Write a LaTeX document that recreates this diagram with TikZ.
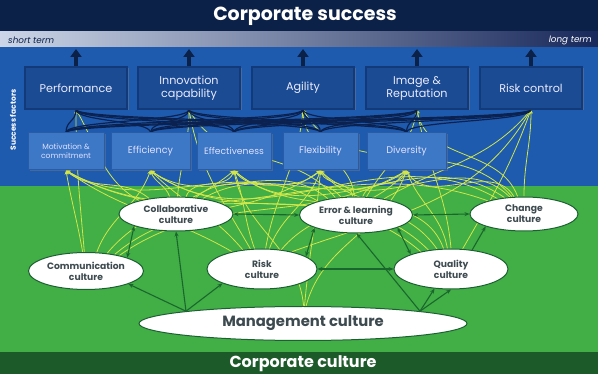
\documentclass[tikz,border=0pt]{standalone}
\usepackage{fontspec}
\setmainfont{Poppins}
\usetikzlibrary{shapes.geometric,arrows.meta,calc,shadows}
\definecolor{navy}{HTML}{0C2147}
\definecolor{gradL}{HTML}{CCD6E8}
\definecolor{gradR}{HTML}{18285A}
\definecolor{blueA}{HTML}{1E5AAE}
\definecolor{tboxf}{HTML}{1B4B92}
\definecolor{tboxb}{HTML}{123A7A}
\definecolor{sboxf}{HTML}{3C78C6}
\definecolor{sboxb}{HTML}{2A5CA6}
\definecolor{greenA}{HTML}{41AE46}
\definecolor{greenD}{HTML}{1C5A2A}
\definecolor{edark}{HTML}{1C6032}
\definecolor{ctext}{HTML}{3D4A4F}
\definecolor{garr}{HTML}{1A672D}
\definecolor{ylw}{HTML}{D0E649}
\definecolor{navc}{HTML}{0B2250}
\pgfdeclarelayer{bg}
\pgfdeclarelayer{mid}
\pgfsetlayers{bg,mid,main}
\begin{document}
\begin{tikzpicture}[x=1pt,y=1pt,
  tbox/.style={draw=tboxb, fill=tboxf, line width=1.2pt, minimum width=102pt, minimum height=42pt,
    text=white!92!blue, font=\fontsize{11.2}{13}\selectfont, align=center, inner sep=0pt,
    drop shadow={opacity=0.45, shadow xshift=1.5pt, shadow yshift=-1.5pt}},
  sbox/.style={draw=sboxb, fill=sboxf, line width=1pt, minimum height=37pt,
    text=white!88!blue, font=\fontsize{9.6}{11}\selectfont, align=center, inner sep=0pt,
    drop shadow={opacity=0.4, shadow xshift=1.5pt, shadow yshift=-1.5pt}},
  cult/.style={ellipse, draw=edark, fill=white, line width=1pt, inner sep=0pt, text=ctext,
    font=\bfseries\fontsize{9.2}{11}\selectfont, align=center},
  uparr/.style={navy, line width=3.4pt, -{Triangle[length=8pt,width=11pt]}},
  garrow/.style={garr, line width=1.1pt, -{Stealth[length=5pt,width=4pt]}},
  gboth/.style={garr, line width=1.1pt, {Stealth[length=5pt,width=4pt]}-{Stealth[length=5pt,width=4pt]}},
  ylc/.style={ylw, line width=0.8pt, -{Stealth[length=4pt,width=4pt]}},
  navcurve/.style={navc, line width=1.2pt},
  banner/.style={text=white, font=\bfseries\fontsize{19}{22}\selectfont, inner sep=0pt}
]
\useasboundingbox (0,0) rectangle (598,-374);
\begin{pgfonlayer}{bg}
  \fill[navy] (0,0) rectangle (598,-32);
  \shade[left color=gradL, right color=gradR] (0,-32) rectangle (598,-47);
  \fill[blueA] (0,-47) rectangle (598,-186);
  \fill[greenA] (0,-186) rectangle (598,-352);
  \fill[greenD] (0,-352) rectangle (598,-374);
\end{pgfonlayer}

\node[banner] (ttl) at (305,-16) {Corporate success};
\node[banner, font=\bfseries\fontsize{16}{18}\selectfont] (cc) at (303,-364) {Corporate culture};
\node[anchor=west, inner sep=0pt, text=navy, font=\itshape\fontsize{8.8}{10}\selectfont] (st) at (8,-40) {short term};
\node[anchor=east, inner sep=0pt, text=white, font=\itshape\fontsize{8.8}{10}\selectfont] (lt) at (592,-40) {long term};
\node[rotate=90, inner sep=0pt, text=white, font=\bfseries\fontsize{7.5}{9}\selectfont] (sf) at (13,-120) {Success factors};

% top boxes
\node[tbox] (perf) at (76,-88) {Performance};
\node[tbox] (inno) at (189,-88) {Innovation\\capability};
\node[tbox] (agil) at (303,-88) {Agility};
\node[tbox] (img) at (417,-88) {Image \&\\Reputation};
\node[tbox] (riskc) at (531,-88) {Risk control};

% small boxes
\node[sbox, minimum width=76pt, font=\fontsize{7.6}{9}\selectfont] (mot) at (66,-151.5) {Motivation \&\\commitment};
\node[sbox, minimum width=79pt] (eff) at (150.5,-151.5) {Efficiency};
\node[sbox, minimum width=74pt, font=\fontsize{9.2}{11}\selectfont] (effe) at (234,-151.5) {Effectiveness};
\node[sbox, minimum width=75pt] (flex) at (320.5,-151.5) {Flexibility};
\node[sbox, minimum width=79pt] (div) at (406.5,-151.5) {Diversity};

% cultures
\node[cult, minimum width=114pt, minimum height=34pt] (collab) at (176,-214) {Collaborative\\culture};
\node[cult, minimum width=113pt, minimum height=36pt] (error) at (356,-215) {Error \& learning\\culture};
\node[cult, minimum width=108pt, minimum height=34pt] (change) at (524,-214) {Change\\culture};
\node[cult, minimum width=115pt, minimum height=37pt] (comm) at (86,-271) {Communication\\culture};
\node[cult, minimum width=110pt, minimum height=40pt] (risk) at (262,-269) {Risk\\culture};
\node[cult, minimum width=114pt, minimum height=40pt] (quality) at (451,-269) {Quality\\culture};
\node[cult, minimum width=328pt, minimum height=34pt, font=\bfseries\fontsize{14.8}{16}\selectfont] (mgmt) at (303,-323.5) {Management culture};

% up arrows
\coordinate (u1) at (76,-49);
\coordinate (u2) at (189,-49);
\coordinate (u3) at (303,-49);
\coordinate (u4) at (417,-49);
\coordinate (u5) at (531,-49);
\draw[uparr] (perf.north) -- (u1);
\draw[uparr] (inno.north) -- (u2);
\draw[uparr] (agil.north) -- (u3);
\draw[uparr] (img.north) -- (u4);
\draw[uparr] (riskc.north) -- (u5);

\begin{pgfonlayer}{mid}
  % yellow influence curves
  \draw[ylc] (comm.100) to[out=100,in=-80] (mot.south);
  \draw[ylc] (comm.60) to[out=70,in=-110] (eff.south);
  \draw[ylc] (comm.40) to[out=50,in=-140] (effe.south);
  \draw[ylc] (comm.30) to[out=40,in=-145] (flex.south);
  \draw[ylc] (comm.25) to[out=35,in=-150] (div.south);
  \draw[ylc] (comm.95) to[out=95,in=-90] (perf.south);
  \draw[ylc] (collab.150) to[out=140,in=-40] (mot.south);
  \draw[ylc] (collab.110) to[out=110,in=-70] (eff.south);
  \draw[ylc] (collab.60) to[out=70,in=-110] (effe.south);
  \draw[ylc] (collab.40) to[out=40,in=-140] (flex.south);
  \draw[ylc] (collab.30) to[out=30,in=-145] (div.south);
  \draw[ylc] (collab.85) to[out=85,in=-90] (inno.south);
  \draw[ylc] (collab.160) to[out=150,in=-60] (perf.south);
  \draw[ylc] (risk.150) to[out=150,in=-35] (mot.south);
  \draw[ylc] (risk.135) to[out=130,in=-45] (eff.south);
  \draw[ylc] (risk.110) to[out=110,in=-70] (effe.south);
  \draw[ylc] (risk.70) to[out=70,in=-110] (flex.south);
  \draw[ylc] (risk.45) to[out=50,in=-130] (div.south);
  \draw[ylc] (risk.120) to[out=120,in=-80] (inno.south);
  \draw[ylc] (risk.80) to[out=80,in=-95] (agil.south);
  \draw[ylc] (risk.30) to[out=20,in=-120] (riskc.south);
  \draw[ylc] (error.160) to[out=150,in=-30] (mot.south);
  \draw[ylc] (error.150) to[out=140,in=-35] (eff.south);
  \draw[ylc] (error.130) to[out=130,in=-50] (effe.south);
  \draw[ylc] (error.100) to[out=100,in=-70] (flex.south);
  \draw[ylc] (error.70) to[out=70,in=-110] (div.south);
  \draw[ylc] (error.140) to[out=130,in=-60] (inno.south);
  \draw[ylc] (error.95) to[out=95,in=-90] (agil.south);
  \draw[ylc] (error.60) to[out=60,in=-100] (img.south);
  \draw[ylc] (error.30) to[out=30,in=-130] (riskc.south);
  \draw[ylc] (quality.150) to[out=140,in=-30] (mot.south);
  \draw[ylc] (quality.140) to[out=135,in=-35] (eff.south);
  \draw[ylc] (quality.125) to[out=125,in=-40] (effe.south);
  \draw[ylc] (quality.110) to[out=110,in=-50] (flex.south);
  \draw[ylc] (quality.100) to[out=100,in=-70] (div.south);
  \draw[ylc] (quality.90) to[out=95,in=-80] (img.south);
  \draw[ylc] (quality.60) to[out=60,in=-110] (riskc.south);
  \draw[ylc] (change.160) to[out=160,in=-30] (mot.south);
  \draw[ylc] (change.150) to[out=150,in=-35] (eff.south);
  \draw[ylc] (change.140) to[out=145,in=-40] (effe.south);
  \draw[ylc] (change.130) to[out=135,in=-45] (flex.south);
  \draw[ylc] (change.120) to[out=120,in=-60] (div.south);
  \draw[ylc] (change.90) to[out=90,in=-90] (riskc.south);
  \draw[ylc] (change.110) to[out=110,in=-80] (img.south);
  \draw[ylc] (change.125) to[out=130,in=-60] (agil.south);
  \draw[ylc] (mgmt.88) to[out=95,in=-80] (effe.south);
  \draw[ylc] (mgmt.85) to[out=85,in=-95] (flex.south);
  \draw[ylc] (mgmt.80) to[out=75,in=-110] (div.south);
  % navy curves between rows
  \foreach \s in {mot,eff,effe,flex,div}{
    \foreach \t in {perf,inno,agil,img,riskc}{
      \draw[navcurve] (\s.north) to[out=90,in=-90,distance=12pt] (\t.south);
    }
  }
\end{pgfonlayer}

% green culture arrows
\draw[gboth] (collab.east) -- (error.west);
\draw[gboth] (error.east) -- (change.west);
\draw[gboth] (risk.east) -- (quality.west);
\draw[gboth] (risk.16) -- (error.197);
\draw[gboth] (error.-17) -- (quality.160);
\draw[garrow] (quality.42) -- (change.198);
\draw[gboth] (collab.196) -- (comm.18);
\draw[garrow] (mgmt.174) -- (comm.-17);
\draw[garrow] (mgmt.174) -- (collab.south);
\draw[garrow] (mgmt.174) -- (risk.200);
\draw[garrow] (mgmt.6) -- (error.272);
\draw[garrow] (mgmt.6) -- (quality.230);
\draw[garrow] (mgmt.6) -- (quality.south);
\end{tikzpicture}
\end{document}
